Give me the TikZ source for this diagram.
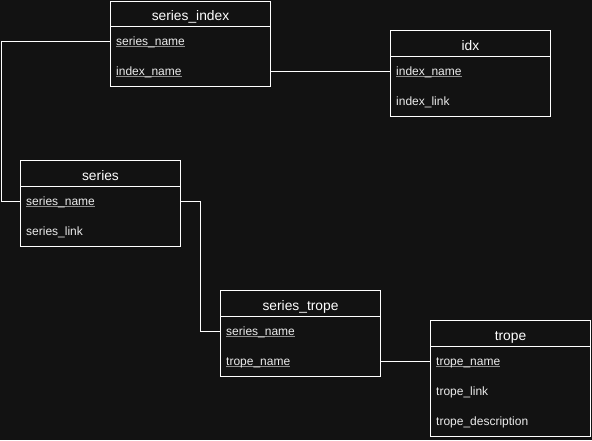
\documentclass[tikz,border=0pt]{standalone}
\usepackage{fontspec}
\setmainfont{Liberation Sans}
\definecolor{bg}{HTML}{121212}
\definecolor{ulgray}{HTML}{8C8C8C}
\definecolor{fieldtxt}{HTML}{EBEBEB}
\newcommand\keyname[1]{\setbox0\hbox{#1}\rlap{\color{ulgray}\rule[-2pt]{\wd0}{1pt}}\box0}
\begin{document}
\begin{tikzpicture}[x=1pt,y=-1pt,
  tbox/.style={draw=white, line width=1pt, fill=bg, minimum width=160pt, inner sep=0pt, anchor=north west},
  head/.style={tbox, minimum height=26pt, text height=13.5pt, text depth=0pt, font=\fontsize{13.8}{16}\selectfont, text=white},
  body/.style={tbox, minimum height=#1},
  field/.style={anchor=west, inner sep=0pt, minimum height=30pt, text height=8pt, text depth=0pt, font=\fontsize{12}{14}\selectfont, text=fieldtxt},
  conn/.style={draw=white, line width=1pt}]
\fill[bg] (0,0) rectangle (592,440);

% series_index
\node[head] (sih) at (110,0.5) {series\_index};
\node[body=60pt] (sib) at (110,26) {};
\node[field] (si1) at (116,41) {\keyname{series\_name}};
\node[field] (si2) at (116,71) {\keyname{index\_name}};

% idx
\node[head] (ih) at (390,30) {idx};
\node[body=60pt] (ib) at (390,56) {};
\node[field] (i1) at (396,71) {\keyname{index\_name}};
\node[field] (i2) at (396,101) {index\_link};

% series
\node[head] (sh) at (20,160) {series};
\node[body=60pt] (sb) at (20,186) {};
\node[field] (s1) at (26,201) {\keyname{series\_name}};
\node[field] (s2) at (26,231) {series\_link};

% series_trope
\node[head] (sth) at (220,290) {series\_trope};
\node[body=60pt] (stb) at (220,316) {};
\node[field] (st1) at (226,331) {\keyname{series\_name}};
\node[field] (st2) at (226,361) {\keyname{trope\_name}};

% trope
\node[head] (th) at (430,320) {trope};
\node[body=90pt] (tb) at (430,346) {};
\node[field] (t1) at (436,361) {\keyname{trope\_name}};
\node[field] (t2) at (436,391) {trope\_link};
\node[field] (t3) at (436,421) {trope\_description};

% connectors
\coordinate (lft) at (1,0);
\coordinate (mid) at (200,0);
\draw[conn] (si1 -| sib.west) -- (si1 -| lft) |- (s1 -| sb.west);
\draw[conn] (si2 -| sib.east) -- (i1 -| ib.west);
\draw[conn] (s1 -| sb.east) -- (s1 -| mid) |- (st1 -| stb.west);
\draw[conn] (st2 -| stb.east) -- (t1 -| tb.west);
\end{tikzpicture}
\end{document}
